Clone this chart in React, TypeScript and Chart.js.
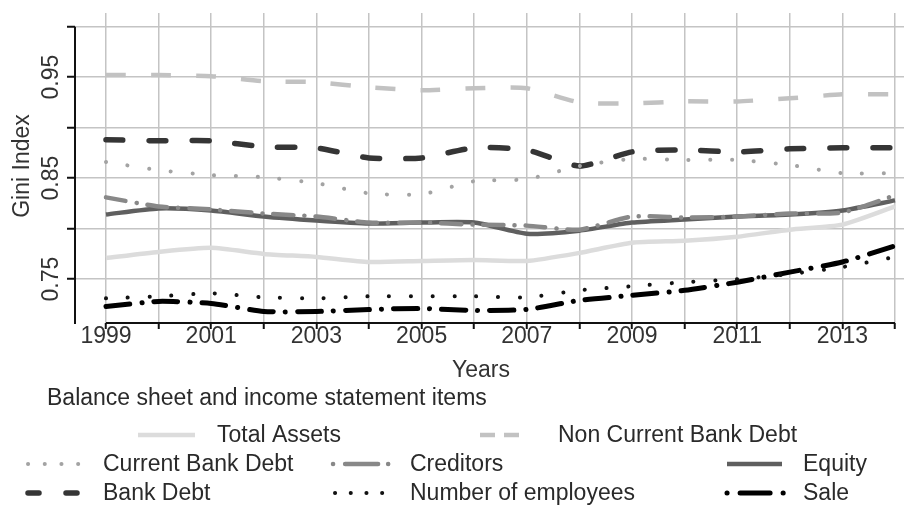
import React, { useEffect, useRef } from 'react';
import { Chart, registerables } from 'chart.js';

Chart.register(...registerables);

// ---- data ----
const years = [1999, 2000, 2001, 2002, 2003, 2004, 2005, 2006, 2007, 2008, 2009, 2010, 2011, 2012, 2013, 2014];
const xTickLabels = ['1999', '', '2001', '', '2003', '', '2005', '', '2007', '', '2009', '', '2011', '', '2013', ''];
const yTickValues = [0.75, 0.8, 0.85, 0.9, 0.95, 1.0];
const yTickLabels = ['0.75', '', '0.85', '', '0.95', ''];

const totalAssets = [0.771, 0.777, 0.781, 0.775, 0.772, 0.767, 0.768, 0.769, 0.768, 0.776, 0.786, 0.788, 0.792, 0.799, 0.804, 0.822];
const nonCurrentBankDebt = [0.952, 0.952, 0.951, 0.946, 0.945, 0.940, 0.937, 0.939, 0.939, 0.925, 0.924, 0.926, 0.926, 0.929, 0.933, 0.933];
const currentBankDebt = [0.866, 0.858, 0.853, 0.851, 0.845, 0.835, 0.834, 0.847, 0.849, 0.862, 0.869, 0.868, 0.868, 0.863, 0.855, 0.855];
const creditors = [0.831, 0.822, 0.819, 0.815, 0.812, 0.806, 0.806, 0.804, 0.803, 0.799, 0.812, 0.811, 0.812, 0.815, 0.816, 0.833];
const equity = [0.814, 0.820, 0.818, 0.812, 0.808, 0.805, 0.806, 0.806, 0.795, 0.798, 0.806, 0.809, 0.812, 0.814, 0.818, 0.828];
const bankDebt = [0.888, 0.887, 0.887, 0.881, 0.880, 0.870, 0.870, 0.880, 0.878, 0.862, 0.876, 0.878, 0.876, 0.879, 0.880, 0.880];
const employees = [0.731, 0.733, 0.736, 0.732, 0.731, 0.733, 0.733, 0.733, 0.732, 0.739, 0.743, 0.747, 0.750, 0.755, 0.762, 0.772];
const sale = [0.723, 0.728, 0.726, 0.718, 0.718, 0.720, 0.721, 0.719, 0.720, 0.729, 0.734, 0.739, 0.747, 0.757, 0.767, 0.783];

const seriesNames = ['Total Assets', 'Non Current Bank Debt', 'Current Bank Debt', 'Creditors', 'Equity', 'Bank Debt', 'Number of employees', 'Sale'];
const seriesValues = [totalAssets, nonCurrentBankDebt, currentBankDebt, creditors, equity, bankDebt, employees, sale];

// ---- styles ----
const seriesStyles = [
  { color: '#dcdcdc', width: 4.5, dash: [] as number[], cap: 'butt' },
  { color: '#c2c2c2', width: 4.5, dash: [20, 25], cap: 'butt' },
  { color: '#a3a3a3', width: 4, dash: [0.1, 21.7], cap: 'round' },
  { color: '#888888', width: 4.5, dash: [20, 11, 0.1, 11], cap: 'round' },
  { color: '#5f5f5f', width: 4.5, dash: [] as number[], cap: 'butt' },
  { color: '#353535', width: 5.5, dash: [17, 26], cap: 'round' },
  { color: '#111111', width: 4, dash: [0.1, 21.7], cap: 'round' },
  { color: '#000000', width: 5, dash: [24, 12, 0.1, 12], cap: 'round' },
];

const legendLayout = [
  { x1: 138, x2: 195, y: 435, tx: 217, dash: [] as number[] },
  { x1: 480, x2: 519, y: 435, tx: 558, dash: [15, 9] },
  { x1: 28, x2: 80, y: 464, tx: 103, dash: [0.1, 16.6] },
  { x1: 333, x2: 391, y: 464, tx: 410, dash: [0.1, 12, 33, 10, 0.1, 100] },
  { x1: 727, x2: 782, y: 464, tx: 803, dash: [] as number[] },
  { x1: 28, x2: 78, y: 493, tx: 103, dash: [11, 27] },
  { x1: 335, x2: 384, y: 493, tx: 410, dash: [0.1, 15.6] },
  { x1: 727, x2: 785, y: 493, tx: 803, dash: [0.1, 13, 30, 13, 0.1, 100] },
];

const FONT = '23px "Liberation Sans", Arial, sans-serif';

const decorPlugin = {
  id: 'decor',
  afterDraw(chart: any) {
    const { ctx, chartArea, scales } = chart;
    const xs = scales.x;
    const ys = scales.y;
    ctx.save();
    // axis lines
    ctx.strokeStyle = '#111';
    ctx.lineWidth = 2;
    ctx.setLineDash([]);
    ctx.beginPath();
    ctx.moveTo(xs.getPixelForValue(years[0]), chartArea.bottom);
    ctx.lineTo(xs.getPixelForValue(years[years.length - 1]), chartArea.bottom);
    ctx.moveTo(chartArea.left, ys.getPixelForValue(yTickValues[yTickValues.length - 1]));
    ctx.lineTo(chartArea.left, chartArea.bottom + 1);
    ctx.stroke();

    ctx.font = FONT;
    ctx.fillStyle = '#333';
    ctx.textAlign = 'center';
    ctx.textBaseline = 'middle';
    // x tick labels
    years.forEach((yr, i) => {
      if (xTickLabels[i]) ctx.fillText(xTickLabels[i], xs.getPixelForValue(yr), 337);
    });
    // y tick labels (rotated)
    yTickValues.forEach((v, i) => {
      if (!yTickLabels[i]) return;
      ctx.save();
      ctx.translate(52, ys.getPixelForValue(v));
      ctx.rotate(-Math.PI / 2);
      ctx.fillText(yTickLabels[i], 0, 0);
      ctx.restore();
    });
    // y title
    ctx.save();
    ctx.translate(23, 166);
    ctx.rotate(-Math.PI / 2);
    ctx.fillText('Gini Index', 0, 0);
    ctx.restore();
    // x title
    ctx.fillText('Years', 481, 371);
    // legend title
    ctx.textAlign = 'left';
    ctx.fillStyle = '#2a2a2a';
    ctx.fillText('Balance sheet and income statement items', 47, 399);

    // legend
    legendLayout.forEach((L, i) => {
      const st = seriesStyles[i];
      ctx.strokeStyle = st.color;
      ctx.lineWidth = st.width;
      ctx.lineCap = st.cap;
      ctx.setLineDash(L.dash);
      ctx.beginPath();
      ctx.moveTo(L.x1, L.y);
      ctx.lineTo(L.x2, L.y);
      ctx.stroke();
      ctx.setLineDash([]);
      ctx.fillStyle = '#2a2a2a';
      ctx.textAlign = 'left';
      ctx.fillText(seriesNames[i], L.tx, L.y + 1);
    });
    ctx.restore();
  },
};

export default function App() {
  const ref = useRef<HTMLCanvasElement | null>(null);
  useEffect(() => {
    if (!ref.current) return;
    const datasets = seriesNames.map((name, i) => ({
      label: name,
      data: years.map((yr, j) => ({ x: yr, y: seriesValues[i][j] })),
      borderColor: seriesStyles[i].color,
      backgroundColor: seriesStyles[i].color,
      borderWidth: seriesStyles[i].width,
      borderDash: seriesStyles[i].dash,
      borderCapStyle: seriesStyles[i].cap as any,
      pointRadius: 0,
      tension: 0.2,
      fill: false,
    }));
    const chart = new Chart(ref.current, {
      type: 'line',
      data: { datasets },
      options: {
        animation: false,
        responsive: false,
        layout: { padding: { top: 13, left: 0, right: 0, bottom: 0 } },
        plugins: { legend: { display: false }, tooltip: { enabled: false }, title: { display: false } },
        scales: {
          x: {
            type: 'linear',
            min: 1998.411,
            max: 2014.171,
            border: { display: false },
            grid: { color: '#c4c4c4', lineWidth: 1.5, tickLength: 6, tickColor: '#111', tickWidth: 2, drawTicks: true },
            ticks: { display: false, autoSkip: false },
            afterBuildTicks: (s: any) => { s.ticks = years.map((v) => ({ value: v })); },
            afterFit: (s: any) => { s.height = 183; },
          },
          y: {
            type: 'linear',
            min: 0.7066,
            max: 1.0135,
            border: { display: false },
            grid: { color: '#c4c4c4', lineWidth: 1.5, tickLength: 8, tickColor: '#111', tickWidth: 2, drawTicks: true },
            ticks: { display: false, autoSkip: false },
            afterBuildTicks: (s: any) => { s.ticks = yTickValues.map((v) => ({ value: v })); },
            afterFit: (s: any) => { s.width = 75; },
          },
        },
      },
      plugins: [decorPlugin],
    });
    return () => chart.destroy();
  }, []);
  return (
    <div style={{ position: 'fixed', left: 0, top: 0, width: 904, height: 506, background: '#fff' }}>
      <canvas ref={ref} width={904} height={506} style={{ display: 'block' }} />
    </div>
  );
}
